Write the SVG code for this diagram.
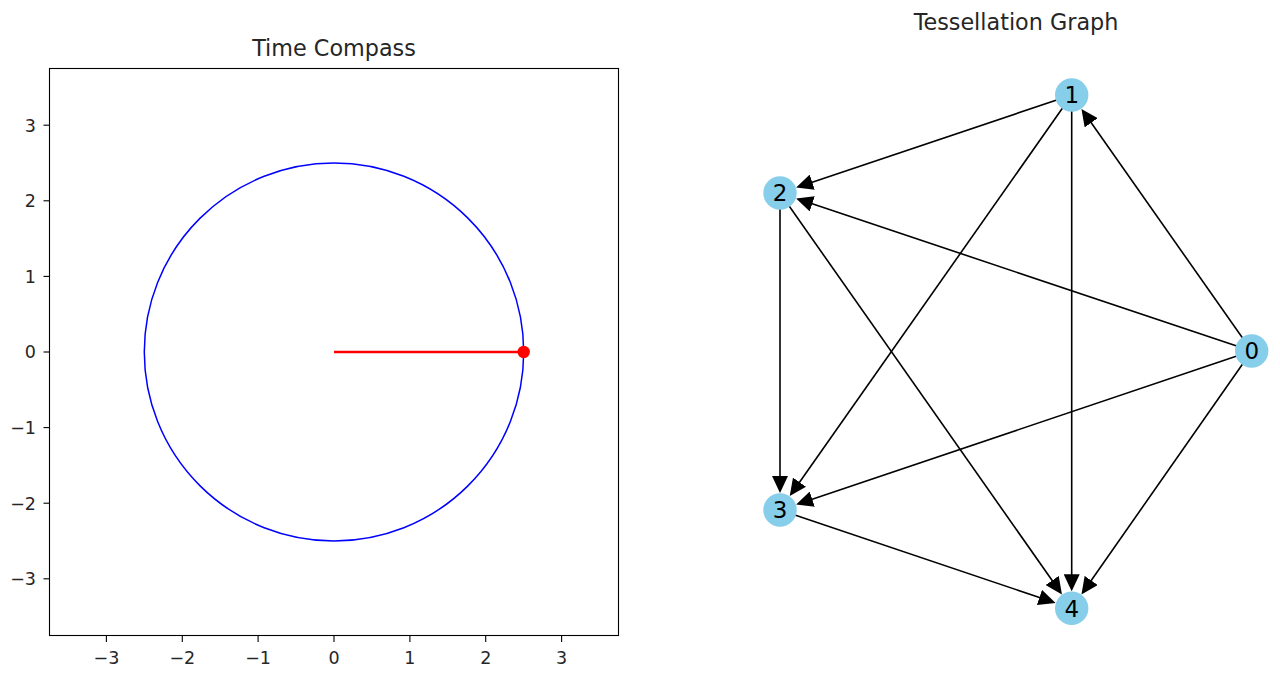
<svg xmlns="http://www.w3.org/2000/svg" width="1280" height="673" viewBox="0 0 1280 673">
<style>
text{font-family:"DejaVu Sans","Liberation Sans",sans-serif;fill:#262626}
.tk{font-size:17.5px}
.xt{text-anchor:middle}
.yt{text-anchor:end}
.title{font-size:22.3px;text-anchor:middle}
.tick{stroke:#000;stroke-width:1.1}
.edge{stroke:#000;stroke-width:1.6;fill:none;marker-end:url(#ah)}
.node circle{fill:#87CEEB}
.node text{font-size:23px;text-anchor:middle;fill:#000}
</style>
<defs>
<marker id="ah" markerUnits="userSpaceOnUse" markerWidth="17" markerHeight="16" viewBox="0 0 17 16" refX="11" refY="8" orient="auto">
<path d="M0,0 L17,8 L0,16 z" fill="#000"/>
</marker>
</defs>
<rect width="1280" height="673" fill="#fff"/>
<g id="compass">
<text class="title" x="334" y="56">Time Compass</text>
<ellipse cx="334" cy="352" rx="189.7" ry="189" fill="none" stroke="#0000ff" stroke-width="1.5"/>
<line x1="334" y1="352" x2="523.7" y2="352" stroke="#ff0000" stroke-width="2.5"/>
<circle cx="523.7" cy="352" r="6.2" fill="#ff0000"/>
<rect x="49.5" y="68.5" width="569" height="567" fill="none" stroke="#000" stroke-width="1.1"/>
<g class="tick">
<line x1="106.4" y1="636" x2="106.4" y2="642"/>
<line x1="182.3" y1="636" x2="182.3" y2="642"/>
<line x1="258.1" y1="636" x2="258.1" y2="642"/>
<line x1="334" y1="636" x2="334" y2="642"/>
<line x1="409.9" y1="636" x2="409.9" y2="642"/>
<line x1="485.7" y1="636" x2="485.7" y2="642"/>
<line x1="561.6" y1="636" x2="561.6" y2="642"/>
<line x1="43.5" y1="125.2" x2="49.5" y2="125.2"/>
<line x1="43.5" y1="200.8" x2="49.5" y2="200.8"/>
<line x1="43.5" y1="276.4" x2="49.5" y2="276.4"/>
<line x1="43.5" y1="352" x2="49.5" y2="352"/>
<line x1="43.5" y1="427.6" x2="49.5" y2="427.6"/>
<line x1="43.5" y1="503.2" x2="49.5" y2="503.2"/>
<line x1="43.5" y1="578.8" x2="49.5" y2="578.8"/>
</g>
<g class="tk xt">
<text x="106.4" y="664">−3</text>
<text x="182.3" y="664">−2</text>
<text x="258.1" y="664">−1</text>
<text x="334" y="664">0</text>
<text x="409.9" y="664">1</text>
<text x="485.7" y="664">2</text>
<text x="561.6" y="664">3</text>
</g>
<g class="tk yt">
<text x="36" y="131.5">3</text>
<text x="36" y="207.1">2</text>
<text x="36" y="282.7">1</text>
<text x="36" y="358.3">0</text>
<text x="36" y="433.9">−1</text>
<text x="36" y="509.5">−2</text>
<text x="36" y="585.1">−3</text>
</g>
</g>
<text class="title" x="1016" y="30">Tessellation Graph</text>
<g id="edges">
<line class="edge" x1="1251.7" y1="351" x2="1084.9" y2="113.8"/>
<line class="edge" x1="1251.7" y1="351" x2="801.8" y2="200.3"/>
<line class="edge" x1="1251.7" y1="351" x2="801.8" y2="502.7"/>
<line class="edge" x1="1251.7" y1="351" x2="1084.9" y2="589.5"/>
<line class="edge" x1="1071.7" y1="95" x2="801.8" y2="185.7"/>
<line class="edge" x1="1071.7" y1="95" x2="793.2" y2="491.2"/>
<line class="edge" x1="1071.7" y1="95" x2="1071.7" y2="585.3"/>
<line class="edge" x1="780" y1="193" x2="780" y2="487"/>
<line class="edge" x1="780" y1="193" x2="1058.5" y2="589.5"/>
<line class="edge" x1="780" y1="510" x2="1049.9" y2="601"/>
</g>
<g id="node0" class="node"><circle cx="1251.7" cy="351" r="16.7"/><text x="1251.7" y="359.3">0</text></g>
<g id="node1" class="node"><circle cx="1071.7" cy="95" r="16.7"/><text x="1071.7" y="103.3">1</text></g>
<g id="node2" class="node"><circle cx="780" cy="193" r="16.7"/><text x="780" y="201.3">2</text></g>
<g id="node3" class="node"><circle cx="780" cy="510" r="16.7"/><text x="780" y="518.3">3</text></g>
<g id="node4" class="node"><circle cx="1071.7" cy="608.3" r="16.7"/><text x="1071.7" y="616.6">4</text></g>
</svg>
